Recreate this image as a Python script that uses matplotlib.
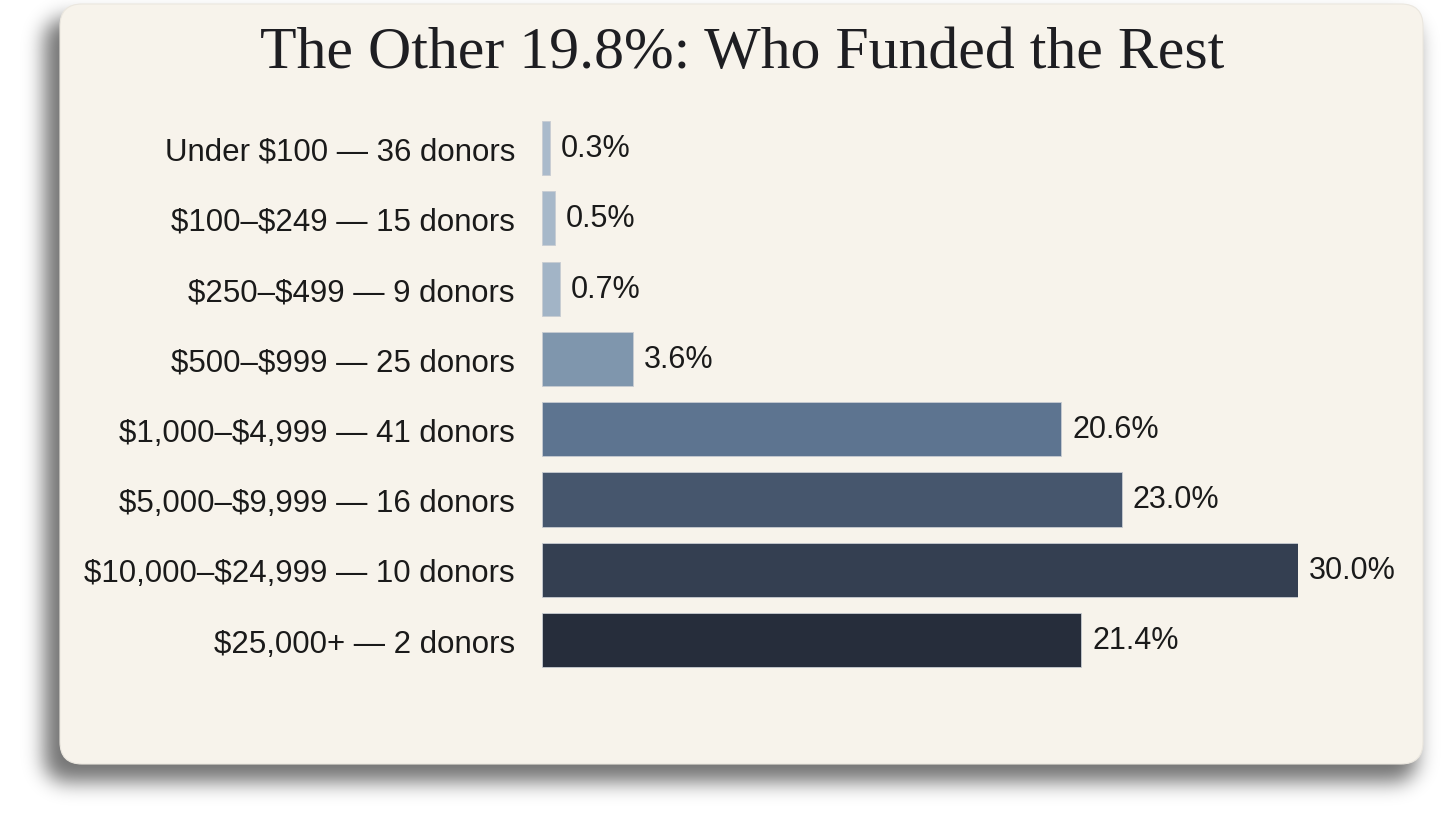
import matplotlib
matplotlib.use("Agg")
import numpy as np
import matplotlib.pyplot as plt
from matplotlib.patches import FancyBboxPatch

plt.rcParams["text.parse_math"] = False

categories = [
    "Under $100 — 36 donors",
    "$100–$249 — 15 donors",
    "$250–$499 — 9 donors",
    "$500–$999 — 25 donors",
    "$1,000–$4,999 — 41 donors",
    "$5,000–$9,999 — 16 donors",
    "$10,000–$24,999 — 10 donors",
    "$25,000+ — 2 donors",
]
values = [0.3, 0.5, 0.7, 3.6, 20.6, 23.0, 30.0, 21.4]
value_labels = ["0.3%", "0.5%", "0.7%", "3.6%", "20.6%", "23.0%", "30.0%", "21.4%"]
bar_colors = ["#aabacb", "#a7b8c9", "#a2b4c6", "#7f96ad", "#5d7490", "#46566d", "#343f51", "#262d3b"]
title = "The Other 19.8%: Who Funded the Rest"

W, H = 1456, 820
fig = plt.figure(figsize=(W / 100, H / 100), dpi=100)
fig.patch.set_facecolor("white")

# card geometry in pixels (y from top)
cx0, cy0, cx1, cy1 = 60, 5, 1423, 765
R = 22
def fx(x): return x / W
def fy(y): return 1 - y / H

# soft shadow as blurred rounded-rect mask
def rounded_mask(x0, y0, x1, y1, r):
    yy, xx = np.mgrid[0:H, 0:W].astype(float) + 0.5
    dx = np.maximum(np.maximum(x0 + r - xx, xx - (x1 - r)), 0)
    dy = np.maximum(np.maximum(y0 + r - yy, yy - (y1 - r)), 0)
    inside = (xx >= x0) & (xx <= x1) & (yy >= y0) & (yy <= y1)
    return (inside & (dx ** 2 + dy ** 2 <= r ** 2)).astype(float)

def blur(a, s):
    k = np.arange(-3 * s, 3 * s + 1)
    g = np.exp(-k ** 2 / (2 * s * s)); g /= g.sum()
    a = np.apply_along_axis(lambda m: np.convolve(m, g, mode="same"), 0, a)
    a = np.apply_along_axis(lambda m: np.convolve(m, g, mode="same"), 1, a)
    return a

sh = blur(rounded_mask(cx0 - 16, cy0 + 14, cx1 - 6, cy1 + 18, R), 10)
rgba = np.zeros((H, W, 4))
rgba[..., 3] = sh * 0.55
bg = fig.add_axes([0, 0, 1, 1], zorder=0)
bg.imshow(rgba, extent=[0, W, H, 0], interpolation="bilinear", aspect="auto")
bg.set_xlim(0, W); bg.set_ylim(H, 0); bg.axis("off")

card = FancyBboxPatch((cx0, cy0), cx1 - cx0, cy1 - cy0,
                      boxstyle=f"round,pad=0,rounding_size={R}",
                      facecolor="#f7f3eb", edgecolor="#ebe7df", linewidth=0.8,
                      zorder=1)
bg.add_patch(card)

row_h = 70.3
top = 149 - row_h / 2
ax = fig.add_axes([fx(542), fy(top + 8 * row_h), 756 / W, 8 * row_h / H], zorder=2)
ax.set_facecolor("none")
ypos = list(range(len(values)))
ax.barh(ypos, values, height=0.77, color=bar_colors, edgecolor="#c8ccd2", linewidth=0.6)
ax.set_xlim(0, 30)
ax.set_ylim(len(values) - 0.5, -0.5)
for s in ax.spines.values():
    s.set_visible(False)
ax.set_xticks([])
ax.set_yticks(ypos)
ax.set_yticklabels(categories, fontsize=22.5, family="Liberation Sans", color="#1a1a1a")
ax.tick_params(axis="y", length=0, pad=19.5)
for y, v, lab in zip(ypos, values, value_labels):
    ax.text(v + 0.45, y, lab, va="center", ha="left", fontsize=22,
            family="Liberation Sans", color="#1a1a1a", clip_on=False)

fig.text(fx(742), fy(54), title, ha="center", va="center", fontsize=43,
         family="Liberation Serif", color="#1e1e22", zorder=3)

fig.savefig("out.png", dpi=100, facecolor="white")
